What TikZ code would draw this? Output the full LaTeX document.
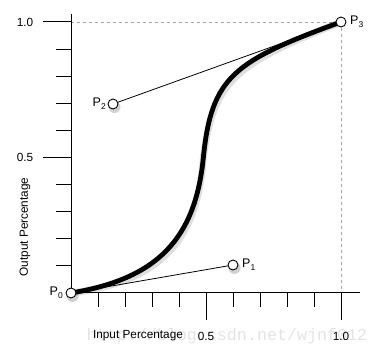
\documentclass[tikz,border=0pt]{standalone}
\usepackage{fontspec}
\setmainfont{Liberation Sans}
\newfontfamily\wmfont{Liberation Mono}
\newcommand\Psub[1]{P\raisebox{-3pt}{\fontsize{8.5}{9}\selectfont #1}}
\begin{document}
\begin{tikzpicture}[x=1pt,y=-1pt,
  axisline/.style={line width=1pt,black},
  tickline/.style={line width=1pt,black},
  guide/.style={gray!70,dashed,dash pattern=on 3pt off 3pt,line width=0.7pt},
  tangent/.style={line width=0.8pt,black},
  curveline/.style={line width=4.8pt,black,line cap=round},
  curveshadow/.style={line width=7pt,black,opacity=0.13,line cap=round},
  ctrlpt/.style={circle,draw=black,fill=white,inner sep=0pt,minimum size=10pt,line width=0.9pt},
  ptshadow/.style={circle,fill=black,opacity=0.18,inner sep=0pt,minimum size=12pt},
  lbl/.style={font=\fontsize{11.8}{13}\selectfont,inner sep=0pt},
  plbl/.style={font=\fontsize{12.5}{14}\selectfont,inner sep=0pt},
  wm/.style={font=\wmfont\fontsize{16.7}{18}\selectfont,text=gray!22,inner sep=0pt}]
\useasboundingbox (0,0) rectangle (383,363);
% watermark
\node[wm] (wmark) at (227,336) {http://blog.csdn.net/wjnf012};
% guides
\coordinate (c0) at (71,293);
\coordinate (c1) at (233,265);
\coordinate (c2) at (113,104);
\coordinate (c3) at (341,22);
\coordinate (mid) at (203.3,158);
\coordinate (ytop) at (71,14);
\coordinate (xend) at (360,293);
\coordinate (g1) at (71,22);
\coordinate (g2) at (341,293);
\draw[guide] (g1) -- (c3) -- (g2);
% axes
\draw[axisline] (ytop) -- (c0) -- (xend);
\foreach \v in {1,2,3,4,6,7,8,9} {
  \draw[tickline] (56,{293-27*\v}) -- (71,{293-27*\v});
  \draw[tickline] ({71+27*\v},293) -- ({71+27*\v},307);
}
\draw[tickline] (43,158) -- (71,158);
\draw[tickline] (43,22) -- (71,22);
\draw[tickline] (206,293) -- (206,320);
\draw[tickline] (341,293) -- (341,320);
% labels
\node[lbl] (y10) at (25,22) {1.0};
\node[lbl] (y05) at (25,157) {0.5};
\node[lbl] (x05) at (206,336) {0.5};
\node[lbl] (x10) at (341,336) {1.0};
\node[lbl] (xlab) at (138,336) {Input Percentage};
\node[lbl,rotate=90] (ylab) at (25,227) {Output Percentage};
% curve
\draw[curveshadow,shift={(2,3)}] (c0) .. controls (157.4,278.7) and (195.2,239) .. (mid) .. controls (211.4,77) and (233,61.1) .. (c3);
% tangents
\draw[tangent] (c0) -- (c1);
\draw[tangent] (c2) -- (c3);
\draw[curveline] (c0) .. controls (157.4,278.7) and (195.2,239) .. (mid) .. controls (211.4,77) and (233,61.1) .. (c3);
% control points
\foreach \c in {c0,c1,c2} {\node[ptshadow,shift={(1.5,3)}] at (\c) {};}
\node[ctrlpt] (p0) at (c0) {};
\node[ctrlpt] (p1) at (c1) {};
\node[ctrlpt] (p2) at (c2) {};
\node[ctrlpt] (p3) at (c3) {};
\node[plbl,anchor=east] (l0) at (63,293) {\Psub{0}};
\node[plbl,anchor=west] (l1) at (242,265) {\Psub{1}};
\node[plbl,anchor=east] (l2) at (106,104) {\Psub{2}};
\node[plbl,anchor=west] (l3) at (350,22) {\Psub{3}};
\end{tikzpicture}
\end{document}
